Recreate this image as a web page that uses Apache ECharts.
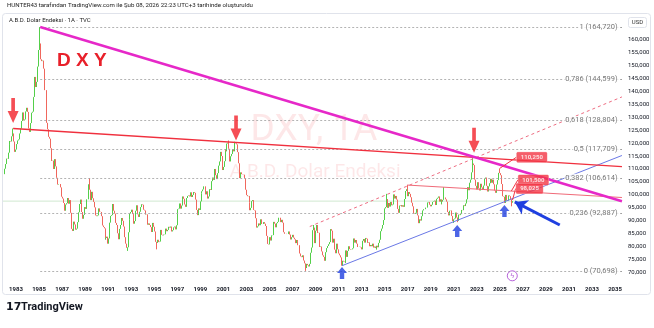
<!DOCTYPE html>
<html><head><meta charset="utf-8">
<script src="https://cdn.jsdelivr.net/npm/echarts@6/dist/echarts.min.js"></script>
<style>html,body{margin:0;padding:0;background:#fff;}#c{width:654px;height:328px;}</style>
</head><body><div id="c"></div>
<script>
// ---------- DATA (monthly closes, DXY, from Jan 1982) ----------
const startYear = 1982;
const firstOpen = 108.0;
const close1980s = [
 110.1,111.9,114.0,113.9,116.3,119.6,120.8,120.6,122.6,123.7,120.6,116.6,
 117.5,119.6,121.0,121.4,123.7,125.6,128.5,131.8,128.7,129.1,132.2,133.6,
 132.0,125.6,124.3,127.7,131.7,132.1,137.7,137.8,145.5,141.6,143.6,149.5,
 155.9,158.4,152.3,151.6,151.8,148.7,140.4,140.4,127.8,125.3,122.4,121.7,
 118.0,113.1,113.2,110.0,113.8,111.0,106.6,104.0,104.0,104.2,104.2,102.9,
 99.3,98.6,96.9,93.9,96.3,96.8,98.8,96.6,98.0,93.1,86.9,86.1,
 89.7,88.6,86.6,87.0,89.5,93.3,96.5,98.2,97.0,93.4,90.8,92.3,
 95.3,94.6,98.3,98.3,104.1,102.0,98.0,101.2,98.7,97.3,95.2,92.1];
const close1990s = [
 91.8,92.1,94.8,93.5,93.4,91.8,88.2,87.6,87.1,82.8,83.4,83.9,
 81.2,83.2,89.3,91.9,92.2,96.5,93.9,92.8,89.2,88.4,85.2,82.9,
 86.9,88.4,91.1,90.0,87.8,83.7,81.2,79.6,79.8,85.6,90.4,92.8,
 93.4,94.3,92.6,88.9,89.9,93.9,96.0,92.5,91.5,93.5,95.3,96.4,
 96.2,94.3,94.0,92.4,92.5,88.5,89.0,88.4,87.6,85.7,89.2,88.7,
 87.7,85.9,81.9,81.5,82.7,81.8,82.0,86.5,84.6,84.4,84.7,84.8,
 87.0,86.0,86.5,87.7,87.4,87.8,85.9,86.4,87.5,87.8,86.7,88.3,
 92.8,94.5,94.7,96.7,94.7,95.9,99.4,98.5,96.3,95.4,98.8,99.6,
 99.8,99.4,101.0,99.2,100.0,101.1,100.8,98.2,94.2,92.2,94.8,94.2,
 97.5,100.6,101.4,102.1,103.3,103.3,100.2,101.4,98.6,99.4,102.2,101.9];
const close2000s = [
 105.3,106.7,105.8,110.0,107.6,106.1,108.4,111.3,112.9,116.6,115.0,109.6,
 110.8,113.0,117.6,116.8,119.8,120.1,117.8,112.9,114.9,115.8,117.6,116.8,
 120.2,119.9,119.5,116.5,112.2,106.5,108.7,108.0,107.9,107.8,106.4,102.0,
 99.9,99.5,99.6,97.0,94.1,95.0,97.6,98.0,94.2,94.0,91.0,87.4,
 87.9,89.0,88.3,90.6,88.8,88.8,89.5,88.9,88.0,84.2,81.1,80.9,
 83.7,82.4,84.4,84.5,88.0,89.6,88.9,87.5,89.1,89.6,91.2,91.2,
 89.5,90.4,89.3,85.6,85.0,85.0,84.9,84.9,85.9,84.7,82.8,83.7,
 84.6,83.5,82.9,81.4,82.6,82.2,80.6,80.6,77.4,76.3,76.0,76.7,
 74.7,73.6,71.8,73.4,72.9,72.4,73.4,77.7,79.7,86.4,87.4,81.4,
 86.2,88.4,85.3,85.4,79.9,80.1,78.4,78.2,76.7,76.1,74.6,77.9];
const close2010s = [
 79.5,80.3,81.0,81.8,86.8,86.2,81.6,83.1,78.9,77.5,81.2,79.0,
 77.4,76.7,75.9,72.9,74.6,74.3,74.1,73.8,78.6,76.1,78.4,80.2,
 79.1,78.9,79.0,79.4,83.2,81.6,82.6,81.2,79.9,79.9,80.0,79.8,
 79.0,82.3,83.0,81.6,83.4,83.1,81.5,81.7,80.2,80.2,80.7,80.2,
 81.2,79.7,80.1,79.5,80.4,79.8,81.5,82.7,86.0,87.0,88.4,90.3,
 94.8,95.3,98.4,95.0,96.9,95.5,97.3,96.0,96.3,96.9,100.2,98.6,
 99.6,98.2,94.6,93.1,95.9,96.1,95.5,96.0,95.4,98.4,101.5,102.2,
 99.5,101.1,100.4,99.1,97.0,95.6,92.9,92.7,93.1,94.6,93.1,92.1,
 89.1,90.6,90.1,91.8,94.0,94.5,94.5,95.1,95.1,97.1,97.3,96.2,
 95.6,96.2,97.3,97.5,97.8,96.1,98.5,98.9,99.4,97.4,98.3,96.4];
const close2020s = [
 97.4,98.1,99.0,99.0,98.3,97.4,93.4,92.1,93.9,94.0,91.9,89.9,
 90.6,90.9,93.2,91.3,90.0,92.4,92.2,92.6,94.2,94.1,96.0,95.7,
 96.5,96.7,98.3,103.0,101.8,104.7,105.9,108.7,112.1,111.5,105.9,103.5,
 102.1,104.9,102.5,101.7,104.3,102.9,101.9,103.6,106.2,106.7,103.5,101.3,
 103.3,104.2,104.5,106.2,104.7,105.9,104.1,101.7,100.8,104.0,105.7,108.5,
 108.4,107.6,104.2,99.5,99.3,96.9,100.0,97.8,97.8,99.8,99.5,98.3,
 97.0,97.6];
const highMonths = ['1982-10','1985-02','1989-06','2001-07','2002-01','2008-11','2015-03','2017-01','2020-03','2022-09','2025-01'];
const highValues = [125.6,164.72,106.5,121.0,120.5,88.4,100.4,103.8,103.0,114.78,110.2];
const lowMonths = ['1992-09','1995-04','2008-03','2011-04','2014-05','2021-01','2021-05','2026-01'];
const lowValues = [78.4,79.0,70.698,72.7,78.9,89.2,89.5,95.6];

const yearTicks = [1983,1985,1987,1989,1991,1993,1995,1997,1999,2001,2003,2005,2007,2009,2011,2013,2015,2017,2019,2021,2023,2025,2027,2029,2031,2033,2035];
const priceTicks = [70,75,80,85,90,95,100,105,110,115,120,125,130,135,140,145,150,155,160];

const fibRatios = ['0','0,236','0,382','0,5','0,618','0,786','1'];
const fibValues = [70.698,92.887,106.614,117.709,128.804,144.599,164.720];
const fibStart = 1985.1;

const magentaLine = [[1985.1,164.72],[2035.6,97.6]];
const redLine = [[1982.75,125.6],[2035.6,110.9]];
const redThinLine = [[2016.95,103.8],[2035.6,99.0]];
const blueLine = [[2011.3,72.7],[2035.6,115.2]];
const pinkDashLine = [[2008.5,87.8],[2035.6,137.8]];
const redArrows = [[1982.75,132.6],[2002.1,125.8],[2022.76,121.1]];
const blueArrows = [[2011.3,69.9],[2021.3,86.1],[2025.4,93.8]];
const bigArrow = [[2030.2,88.4],[2026.3,97.3]];
const callouts = [[2025.0,110.25],[2026.0,101.5],[2026.1,98.025]];
const lastPrice = 97.601;
const tagPrice = 98.130;
const eventMarks = [[2026.08,68.8]];

// ---------- BUILD ----------
const allCloses = [].concat(close1980s, close1990s, close2000s, close2010s, close2020s);
const hi = {}; highMonths.forEach((k,i)=>hi[k]=highValues[i]);
const lo = {}; lowMonths.forEach((k,i)=>lo[k]=lowValues[i]);
function key(i){const y=startYear+Math.floor(i/12);const m=i%12+1;return y+'-'+(m<10?'0':'')+m;}
const candles = allCloses.map((c,i)=>{
  const o = i===0?firstOpen:allCloses[i-1];
  let h=Math.max(o,c), l=Math.min(o,c);
  const k=key(i);
  if(hi[k]!==undefined) h=Math.max(h,hi[k]);
  if(lo[k]!==undefined) l=Math.min(l,lo[k]);
  return [startYear+i/12,o,c,l,h];
});
const fmt = v => v.toFixed(3).replace('.',',');

const PXY = 11.52; // px per year
const xMin = 1983 - 13/PXY, xMax = 1983 + 606/PXY;
const PPV = 2.593;
const yMax = 70 + (272.7-14)/PPV, yMin = 70 - (282-272.7)/PPV;
const FONT = 'Roboto, "DejaVu Sans", sans-serif';

const chart = echarts.init(document.getElementById('c'), null, {renderer:'canvas'});
function lineSeries(data, color, width, type, z){
  return {type:'line', data, symbol:'none', silent:true, z:z||5, animation:false,
    lineStyle:{color, width, type:type||'solid'}};
}
const downArrow = 'path://M4,0 L8,0 L8,13 L12,13 L6,25 L0,13 L4,13 Z';
const upArrow = 'path://M5,0 L10,6 L7.2,6 L7.2,12 L2.8,12 L2.8,6 L0,6 Z';
const calloutDx=[32,22,17], calloutDy=[-11,-11,-11.5];

chart.setOption({
  animation:false,
  backgroundColor:'#fff',
  grid:{left:3,right:32,top:14,bottom:46},
  xAxis:{type:'value',min:xMin,max:xMax,
    axisLine:{show:false},axisTick:{show:false},splitLine:{show:false},
    axisLabel:{customValues:yearTicks,formatter:v=>String(Math.round(v)),fontSize:6,fontWeight:'bold',color:'#131722',margin:4,fontFamily:FONT}},
  yAxis:{type:'value',position:'right',min:yMin,max:yMax,scale:true,
    axisLine:{show:false},axisTick:{show:false},splitLine:{show:false},
    axisLabel:{customValues:priceTicks,formatter:fmt,fontSize:6,color:'#131722',margin:6,fontFamily:FONT}},
  series:[
    {type:'line',data:[[xMin,lastPrice],[xMax,lastPrice]],symbol:'none',silent:true,z:1,
      lineStyle:{color:'rgba(120,190,120,0.35)',width:1}},
    {type:'line',data:[],symbol:'none',silent:true,z:2,
      markLine:{silent:true,symbol:['none','none'],label:{show:false},
        lineStyle:{color:'#a0a0a0',width:0.8,type:[2,2]},
        data:fibValues.map(v=>[{coord:[fibStart,v]},{coord:[xMax,v]}])}},
    {type:'candlestick',data:candles,encode:{x:0,y:[1,2,3,4]},barWidth:1,z:3,silent:true,
      itemStyle:{color:'#54cf4a',color0:'#f0675d',borderColor:'#54cf4a',borderColor0:'#f0675d',borderWidth:1}},
    lineSeries(pinkDashLine,'#ee6d82',1,[3,3],4),
    lineSeries(blueLine,'#6a78e6',1,'solid',4),
    lineSeries(redThinLine,'#f06a78',1,'solid',4),
    lineSeries(redLine,'#f0303e',1.4,'solid',5),
    lineSeries(magentaLine,'#e628c8',2.6,'solid',6),
    {type:'scatter',data:fibValues.map(v=>[2035.3,v]),symbolSize:0,silent:true,z:7,
      label:{show:true,position:'left',distance:0,fontSize:7.5,color:'#555',backgroundColor:'#fff',padding:[0,1],fontFamily:FONT,
        formatter:p=>fibRatios[p.dataIndex]+' ('+fmt(fibValues[p.dataIndex])+')'}},
    {type:'scatter',data:redArrows,symbol:downArrow,symbolSize:[11,25],silent:true,z:8,
      itemStyle:{color:'#f2222b'}},
    {type:'scatter',data:blueArrows,symbol:upArrow,symbolSize:[10,12],silent:true,z:8,
      itemStyle:{color:'#1f3fe0'},
      markLine:{silent:true,symbol:['none','arrow'],symbolSize:[12,12],label:{show:false},
        lineStyle:{color:'#1f3fe0',width:3,type:'solid'},
        data:[[{coord:bigArrow[0]},{coord:bigArrow[1]}]]}},
    {type:'scatter',data:callouts,symbolSize:0,silent:true,z:9,
      label:{show:true,position:'inside',fontSize:6,fontWeight:'bold',color:'#fff',backgroundColor:'#f23645',
        borderColor:'#f8a0a8',borderWidth:0.5,padding:[2,4],borderRadius:1,fontFamily:FONT,
        formatter:p=>fmt(callouts[p.dataIndex][1])},
      labelLayout:p=>({dx:calloutDx[p.dataIndex],dy:calloutDy[p.dataIndex]}),
      labelLine:{show:true,lineStyle:{color:'#f23645',width:1}}},
    {type:'scatter',data:eventMarks,symbol:'circle',symbolSize:10,silent:true,z:9,
      itemStyle:{color:'#fff',borderColor:'#a43bd0',borderWidth:1},
      label:{show:true,position:'inside',formatter:'ϟ',fontSize:7,color:'#a43bd0'}},
    {type:'line',data:[],symbol:'none',silent:true,z:10,
      markLine:{silent:true,symbol:['none','none'],lineStyle:{opacity:0},
        label:{show:true,position:'end',distance:0,fontSize:6,color:'#fff',fontFamily:FONT,padding:[1,2],backgroundColor:'#22b52b'},
        data:[
          [{coord:[xMax-0.01,lastPrice],label:{formatter:fmt(lastPrice)}},{coord:[xMax,lastPrice]}],
          [{coord:[xMax-0.01,tagPrice],label:{formatter:fmt(tagPrice),offset:[0,-6],backgroundColor:'#1e9e28'}},{coord:[xMax,tagPrice]}]
        ]}}
  ],
  graphic:[
    {type:'rect',shape:{x:2.5,y:13.5,width:648,height:281,r:3},style:{fill:'none',stroke:'#e0e3eb',lineWidth:1},z:0,silent:true},
    {type:'text',left:7,top:2,style:{text:'HUNTER43 tarafından TradingView.com ile Şub 08, 2026 22:23 UTC+3 tarihinde oluşturuldu',fontSize:6.1,fill:'#222',fontFamily:FONT},silent:true},
    {type:'text',left:9,top:17,style:{text:'A.B.D. Dolar Endeksi · 1A · TVC',fontSize:6,fill:'#222',fontFamily:FONT},silent:true},
    {type:'text',x:314,y:131,style:{text:'DXY, 1A',fontSize:37,fill:'rgba(242,54,69,0.12)',align:'center',verticalAlign:'middle',fontFamily:FONT},z:0,silent:true},
    {type:'text',x:315,y:172,style:{text:'A.B.D. Dolar Endeksi',fontSize:19,fill:'rgba(242,54,69,0.12)',align:'center',verticalAlign:'middle',fontFamily:FONT},z:0,silent:true},
    {type:'text',x:57,y:61,style:{text:'D X Y',fontSize:19,fontWeight:'bold',fill:'#e8202a',verticalAlign:'middle',fontFamily:'"Liberation Sans", Arial, sans-serif'},z:20,silent:true},
    {type:'group',left:628,top:17,children:[
      {type:'rect',shape:{x:0,y:0,width:18,height:10,r:2},style:{fill:'#fff',stroke:'#e0e3eb'}},
      {type:'text',x:9,y:5,style:{text:'USD',fontSize:6,fill:'#333',align:'center',verticalAlign:'middle',fontFamily:FONT}}
    ],silent:true},
    {type:'text',left:6,top:302,style:{text:'17',fontSize:11,fontWeight:'bold',fill:'#131722',fontFamily:'"DejaVu Sans", sans-serif'},silent:true},
    {type:'text',left:21,top:302,style:{text:'TradingView',fontSize:11,fontWeight:'bold',fill:'#131722',fontFamily:FONT},silent:true}
  ]
});
</script></body></html>
